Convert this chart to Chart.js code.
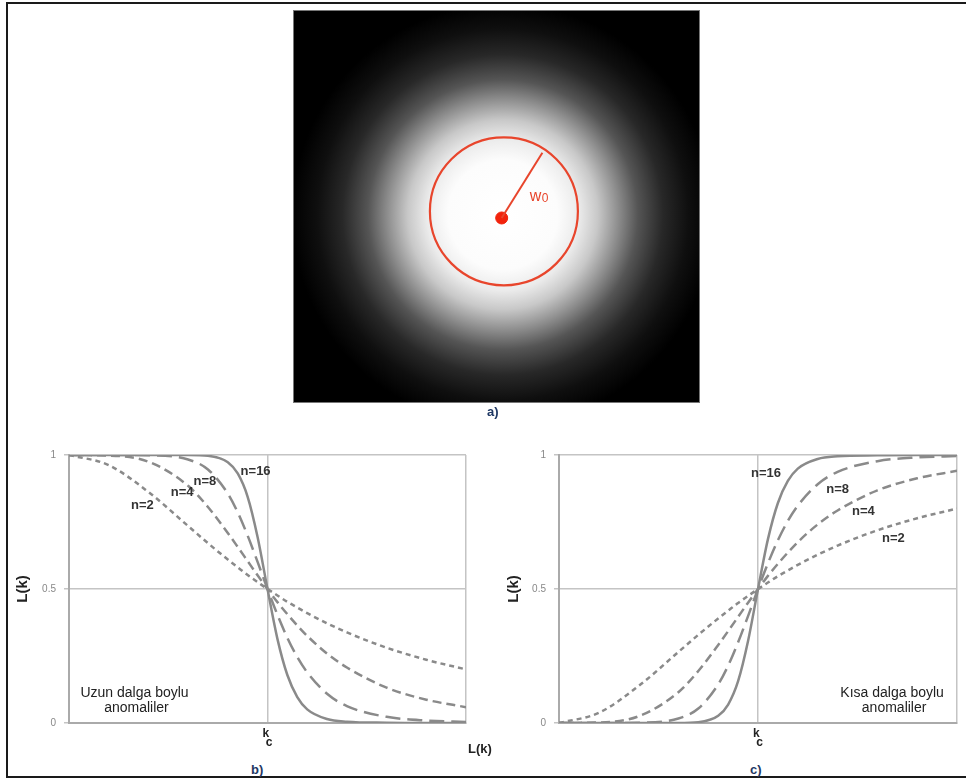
<!DOCTYPE html>
<html>
<head>
<meta charset="utf-8">
<script src="https://cdn.jsdelivr.net/npm/chart.js@4.4.1/dist/chart.umd.min.js"></script>
<style>
  body { margin: 0; width: 966px; height: 779px; background: #fff; position: relative; overflow: hidden;
         font-family: "Liberation Sans", Arial, sans-serif; }
  .frame { position: absolute; left: 6px; top: 2px; width: 960px; height: 776px; box-sizing: border-box;
           border: 2px solid #1a1a1a; border-right: none; }
  .box { position: absolute; }
  .lbl { position: absolute; font-weight: bold; font-size: 13px; color: #1f3864; }
</style>
</head>
<body>
<div class="frame"></div>
<!-- chart.js keeps ~7px around the plot for the dot, so the box is 7px larger on each side -->
<div class="box" style="left:286px;top:3px;width:421px;height:407px"><canvas id="glowChart"></canvas></div>
<div class="box" style="left:0;top:440px;width:480px;height:320px"><canvas id="lowChart"></canvas></div>
<div class="box" style="left:490px;top:440px;width:476px;height:320px"><canvas id="highChart"></canvas></div>
<div class="lbl" style="left:487px;top:404px">a)</div>
<div class="lbl" style="left:251px;top:762px">b)</div>
<div class="lbl" style="left:750px;top:762px">c)</div>
<div class="lbl" style="left:468px;top:741px;color:#222">L(k)</div>

<script>
// wavenumber in units of kc (kc = 1)
const kVals = [0, 0.2, 0.4, 0.6, 0.7, 0.8, 0.85, 0.9, 0.95, 1, 1.05, 1.1, 1.15, 1.2, 1.3, 1.4, 1.6, 1.8, 2];

// b) low-pass curves
const lowN2  = [1, 0.962, 0.862, 0.735, 0.671, 0.610, 0.581, 0.552, 0.526, 0.5, 0.476, 0.452, 0.431, 0.410, 0.372, 0.338, 0.281, 0.236, 0.2];
const lowN4  = [1, 0.998, 0.975, 0.885, 0.806, 0.709, 0.657, 0.604, 0.551, 0.5, 0.451, 0.406, 0.364, 0.325, 0.259, 0.207, 0.132, 0.087, 0.059];
const lowN8  = [1, 1, 0.999, 0.983, 0.946, 0.856, 0.786, 0.699, 0.601, 0.5, 0.404, 0.318, 0.246, 0.189, 0.109, 0.063, 0.023, 0.009, 0.004];
const lowN16 = [1, 1, 1, 1, 0.997, 0.973, 0.931, 0.844, 0.694, 0.5, 0.314, 0.179, 0.097, 0.051, 0.015, 0.005, 0.001, 0, 0];

// c) high-pass curves
const highN2  = [0, 0.038, 0.138, 0.265, 0.329, 0.390, 0.419, 0.448, 0.474, 0.5, 0.524, 0.548, 0.569, 0.590, 0.628, 0.662, 0.719, 0.764, 0.8];
const highN4  = [0, 0.002, 0.025, 0.115, 0.194, 0.291, 0.343, 0.396, 0.449, 0.5, 0.549, 0.594, 0.636, 0.675, 0.741, 0.793, 0.868, 0.913, 0.941];
const highN8  = [0, 0, 0.001, 0.017, 0.054, 0.144, 0.214, 0.301, 0.399, 0.5, 0.596, 0.682, 0.754, 0.811, 0.891, 0.937, 0.977, 0.991, 0.996];
const highN16 = [0, 0, 0, 0, 0.003, 0.027, 0.069, 0.156, 0.306, 0.5, 0.686, 0.821, 0.903, 0.949, 0.985, 0.995, 0.999, 1, 1];

const curveNames = ['n=2', 'n=4', 'n=8', 'n=16'];
const lowLabelAt  = [[0.37, 0.81], [0.57, 0.86], [0.685, 0.90], [0.94, 0.94]];
const highLabelAt = [[1.68, 0.69], [1.53, 0.79], [1.40, 0.87], [1.04, 0.93]];
const lowNote  = ['Uzun dalga boylu', 'anomaliler'];
const highNote = ['K\u0131sa dalga boylu', 'anomaliler'];

// a) gaussian spot, radius w0 = 1
const w0 = 1;
const circleCenter = [0.03, 0.09];
const rayEnd = [0.55, 0.88];
const glowReach = 2.85;
const glowStopAt = [0, 0.26, 0.36, 0.45, 0.55, 0.64, 0.76, 0.88, 1];
const glowGray   = [255, 252, 235, 200, 140, 85, 40, 15, 0];
const w0Label = ['w', '0'];

const RED = '#e8452c';
const GRAY = '#8a8a8a';
const FONT = '"Liberation Sans", Arial, sans-serif';
const dashes = [[5, 4], [9, 5], [15, 7], []];

const toPoints = vals => vals.map((v, i) => ({ x: kVals[i], y: v }));

const notesPlugin = {
  id: 'notes',
  afterDatasetsDraw(chart, args, opts) {
    const { ctx, scales: { x, y } } = chart;
    ctx.save();
    ctx.textAlign = 'center';
    ctx.textBaseline = 'middle';
    (opts.items || []).forEach(it => {
      ctx.font = it.font;
      ctx.fillStyle = it.color;
      ctx.fillText(it.text, x.getPixelForValue(it.x), y.getPixelForValue(it.y));
    });
    ctx.restore();
  }
};

function filterChart(id, series, labelAt, note, noteX, rightPad, titlePad) {
  const items = curveNames.map((t, i) => ({ text: t, x: labelAt[i][0], y: labelAt[i][1],
    font: 'bold 13px ' + FONT, color: '#333' }));
  items.push({ text: note[0], x: noteX, y: 0.112, font: '14px ' + FONT, color: '#222' });
  items.push({ text: note[1], x: noteX + 0.01, y: 0.056, font: '14px ' + FONT, color: '#222' });

  return new Chart(document.getElementById(id), {
    type: 'line',
    data: {
      datasets: series.map((s, i) => ({
        label: curveNames[i],
        data: toPoints(s),
        borderColor: GRAY,
        borderWidth: 2.5,
        borderDash: dashes[i],
        pointRadius: 0,
        cubicInterpolationMode: 'monotone',
        fill: false
      }))
    },
    options: {
      responsive: true,
      maintainAspectRatio: false,
      animation: false,
      events: [],
      layout: { padding: { left: 0, right: rightPad, top: 15, bottom: 0 } },
      plugins: { legend: { display: false }, tooltip: { enabled: false }, notes: { items } },
      scales: {
        x: {
          type: 'linear', min: 0, max: 2,
          afterFit: s => { s.height = 37; },
          grid: { color: '#c4c4c4', lineWidth: 1.5, drawTicks: false },
          border: { color: '#aaa', width: 2 },
          ticks: {
            stepSize: 1, padding: 6, color: '#222',
            font: { family: FONT, size: 12, weight: 'bold', lineHeight: 0.75 },
            maxRotation: 0,
            callback: v => v === 1 ? ['k ', ' c'] : ''
          }
        },
        y: {
          min: 0, max: 1,
          afterFit: s => { s.width = 69; },
          grid: { color: '#c4c4c4', lineWidth: 1.5, tickLength: 5 },
          border: { color: '#aaa', width: 2 },
          ticks: { stepSize: 0.5, padding: 8, color: '#888', font: { family: FONT, size: 10 },
                   callback: v => String(v) },
          title: { display: true, text: 'L(k)', color: '#222', padding: { top: titlePad, bottom: 0 },
                   font: { family: FONT, size: 15, weight: 'bold' } }
        }
      }
    },
    plugins: [notesPlugin]
  });
}

filterChart('lowChart', [lowN2, lowN4, lowN8, lowN16], lowLabelAt, lowNote, 0.33, 14, 14);
filterChart('highChart', [highN2, highN4, highN8, highN16], highLabelAt, highNote, 1.674, 9, 15);

// a) spot picture
const glowPlugin = {
  id: 'glow',
  beforeDatasetsDraw(chart) {
    const { ctx, chartArea: a, scales: { x, y } } = chart;
    const unit = x.getPixelForValue(1) - x.getPixelForValue(0);
    const gx = x.getPixelForValue(circleCenter[0] * 0.5), gy = y.getPixelForValue(circleCenter[1] * 0.5);
    ctx.save();
    ctx.fillStyle = '#000';
    ctx.fillRect(a.left, a.top, a.width, a.height);
    const g = ctx.createRadialGradient(gx, gy, 0, gx, gy, glowReach * unit);
    glowStopAt.forEach((s, i) => g.addColorStop(s, `rgb(${glowGray[i]},${glowGray[i]},${glowGray[i]})`));
    ctx.fillStyle = g;
    ctx.fillRect(a.left, a.top, a.width, a.height);
    ctx.strokeStyle = '#777';
    ctx.lineWidth = 1;
    ctx.strokeRect(a.left + 0.5, a.top + 0.5, a.width - 1, a.height - 1);
    ctx.strokeStyle = RED;
    ctx.lineWidth = 2.2;
    ctx.beginPath();
    ctx.arc(x.getPixelForValue(circleCenter[0]), y.getPixelForValue(circleCenter[1]), w0 * unit, 0, Math.PI * 2);
    ctx.stroke();
    ctx.restore();
  },
  afterDatasetsDraw(chart) {
    const { ctx, scales: { x, y } } = chart;
    const px = x.getPixelForValue(0.38), py = y.getPixelForValue(0.29);
    ctx.save();
    ctx.fillStyle = RED;
    ctx.textBaseline = 'middle';
    ctx.textAlign = 'left';
    ctx.font = '16px ' + FONT;
    ctx.fillText(w0Label[0], px, py);
    const wW = ctx.measureText(w0Label[0]).width;
    ctx.font = '12px ' + FONT;
    ctx.fillText(w0Label[1], px + wW + 0.5, py + 2);
    ctx.restore();
  }
};

new Chart(document.getElementById('glowChart'), {
  type: 'scatter',
  data: {
    datasets: [
      { data: [{ x: 0, y: 0 }, { x: rayEnd[0], y: rayEnd[1] }], showLine: true,
        borderColor: RED, borderWidth: 2, pointRadius: 0 },
      { data: [{ x: 0, y: 0 }], pointRadius: 6, backgroundColor: '#f2230c', borderColor: '#f2230c' }
    ]
  },
  options: {
    responsive: true,
    maintainAspectRatio: false,
    animation: false,
    events: [],
    layout: { padding: 0 },
    plugins: { legend: { display: false }, tooltip: { enabled: false } },
    scales: {
      x: { display: false, min: -2.82, max: 2.68 },
      y: { display: false, min: -2.5, max: 2.81 }
    }
  },
  plugins: [glowPlugin]
});
</script>
</body>
</html>
